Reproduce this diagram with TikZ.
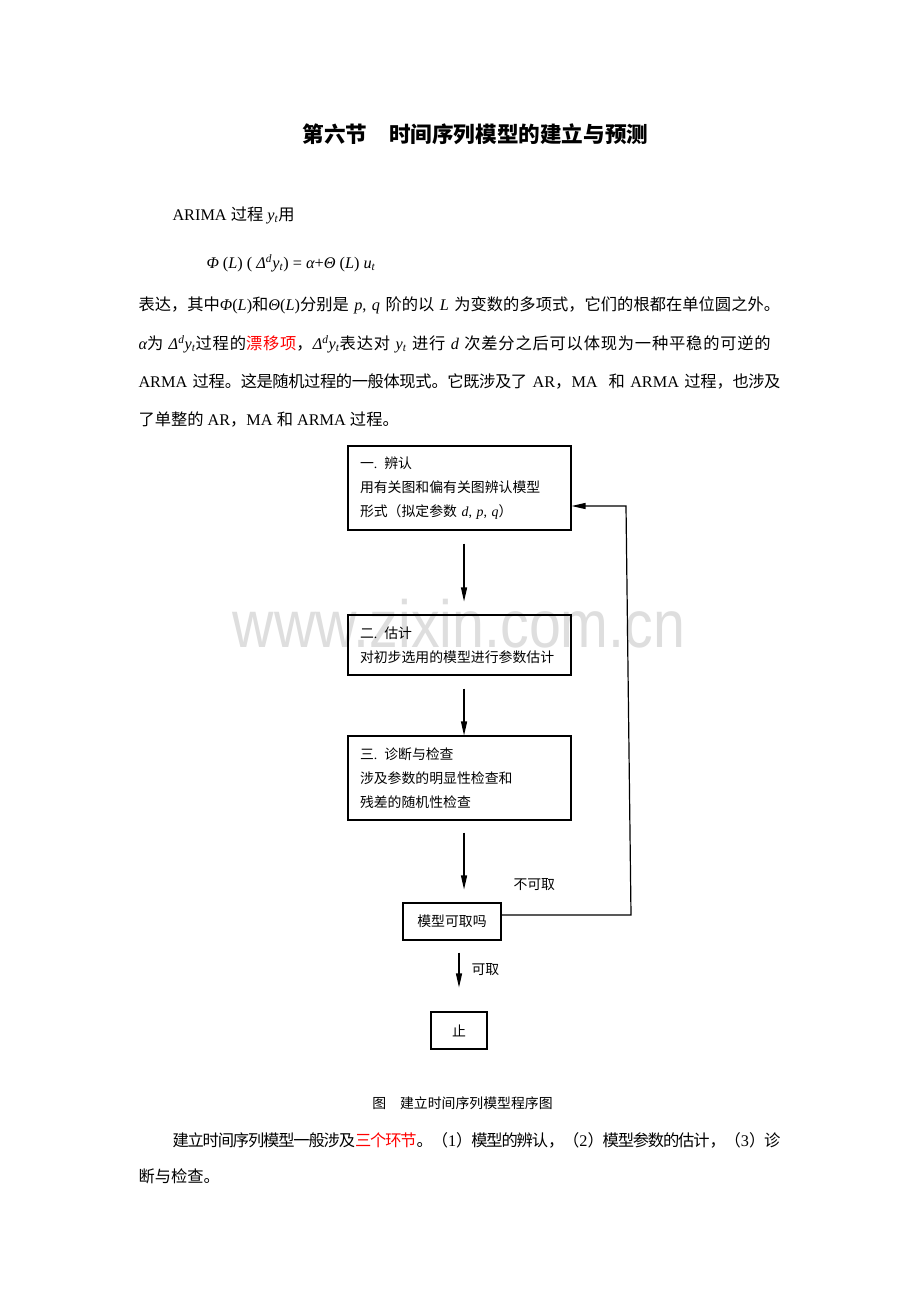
\documentclass[tikz,border=0pt]{standalone}
\usepackage{fontspec}
\setmainfont{Noto Sans CJK SC}
\newfontfamily\tms{Liberation Serif}
\newfontfamily\wmfont{Liberation Sans}
\usetikzlibrary{arrows.meta}

\definecolor{driftred}{RGB}{255,0,0}
\definecolor{markgray}{RGB}{222,222,222}

\newcommand\tm[1]{{\tms #1}}
\newcommand\mi[1]{{\tms\itshape #1}}
\newcommand\bodyfont{\fontsize{12.2}{14}\selectfont}
\newcommand\flowfont{\fontsize{10.4}{18}\selectfont}
\newcommand\titlefont{\fontsize{16.2}{20}\selectfont\bfseries}
\newcommand\jline[1]{\XeTeXlinebreaklocale "zh"\XeTeXlinebreakskip=0pt plus 2pt minus 1pt\relax\parfillskip=0pt\relax\tolerance=9999\relax #1\par}

\tikzset{every picture/.style={line width=0.75pt}}
\tikzset{
  stagebox/.style={draw, line width=0.8pt, minimum width=167.25pt, text width=149.25pt, inner xsep=9pt, inner ysep=0pt, align=left, font=\flowfont},
  smallbox/.style={draw, line width=0.8pt, inner sep=0pt, minimum height=27.75pt, font=\flowfont},
  flow/.style={line width=0.9pt, -{Triangle[length=10.5pt,width=4.5pt]}},
  textline/.style={inner sep=0pt, anchor=base west, font=\bodyfont},
  justline/.style={textline, text width=#1},
}

\begin{document}
\begin{tikzpicture}[x=0.75pt,y=0.75pt,yscale=-1,xscale=1]
\fill[white] (0,0) rectangle (920,1302);
\path[use as bounding box] (0,0) rectangle (920,1302);

% Watermark
\node[inner sep=0pt, anchor=base, text=markgray, font=\wmfont\fontsize{50}{50}\selectfont] (mark) at (459,647) {\scalebox{0.86}[1]{www.zixin.com.cn}};

% Text Node
\node[inner sep=0pt, anchor=base, font=\titlefont] (title) at (475.5,143) {第六节　时间序列模型的建立与预测};
% Text Node
\node[textline] (intro) at (172,220) {\tm{ARIMA }过程\tm{ }\mi{y\textsubscript{t}}用};
% Text Node
\node[textline] (model) at (206,268) {\mi{Φ}\tm{ (}\mi{L}\tm{) ( }\mi{Δ\textsuperscript{d}y\textsubscript{t}}\tm{) = }\mi{α}\tm{+}\mi{Θ}\tm{ (}\mi{L}\tm{) }\mi{u\textsubscript{t}}};
% Text Node
\node[justline=481.5pt] (para a) at (138,310) {\jline{表达，其中\mi{Φ}\tm{(}\mi{L}\tm{)}和\mi{Θ}\tm{(}\mi{L}\tm{)}分别是\tm{ }\mi{p}\tm{, }\mi{q}\tm{ }阶的以\tm{ }\mi{L}\tm{ }为变数的多项式，它们的根都在单位圆之外。}};
% Text Node
\node[justline=481.5pt] (para b) at (138,349) {\jline{\mi{α}为\tm{ }\mi{Δ\textsuperscript{d}y\textsubscript{t}}过程的\textcolor{driftred}{漂移项}，\mi{Δ\textsuperscript{d}y\textsubscript{t}}表达对\tm{ }\mi{y\textsubscript{t}}\tm{ }进行\tm{ }\mi{d}\tm{ }次差分之后可以体现为一种平稳的可逆的}};
% Text Node
\node[justline=481.5pt] (para c) at (138,387) {\jline{\tm{ARMA }过程。这是随机过程的一般体现式。它既涉及了\tm{ AR}，\tm{MA~ }和\tm{ ARMA }过程，也涉及}};
% Text Node
\node[textline] (para d) at (138,425) {了单整的\tm{ AR}，\tm{MA }和\tm{ ARMA }过程。};

%Shape: Rectangle
\node[stagebox, minimum height=63pt] (ident) at (459.5,488) {一\tm{. }辨认\\用有关图和偏有关图辨认模型\\形式（拟定参数\tm{ }\mi{d}\tm{, }\mi{p}\tm{, }\mi{q}）};
%Shape: Rectangle
\node[stagebox, minimum height=45pt] (estim) at (459.5,645) {二\tm{. }估计\\对初步选用的模型进行参数估计};
%Shape: Rectangle
\node[stagebox, minimum height=63pt] (diag) at (459.5,778) {三\tm{. }诊断与检查\\涉及参数的明显性检查和\\残差的随机性检查};
%Shape: Rectangle
\node[smallbox, minimum width=73.5pt] (check) at (452,921.5) {模型可取吗};
%Shape: Rectangle
\node[smallbox, minimum width=42pt] (stop) at (459,1030.5) {止};

%Straight Lines
\draw[flow, shorten <=9.75pt, shorten >=9.75pt] ([xshift=3.4pt]ident.south) -- ([xshift=3.4pt]estim.north);
\draw[flow, shorten <=9.75pt] ([xshift=3.4pt]estim.south) -- ([xshift=3.4pt]diag.north);
\draw[flow, shorten <=9pt, shorten >=9.75pt] ([xshift=3.4pt]diag.south) -- ([xshift=3.4pt]diag.south |- check.north);
\draw[flow, shorten <=9pt, shorten >=18pt] (stop.north |- check.south) -- (stop.north);

% feedback loop
\coordinate (back low) at (631,915);
\coordinate (back high) at (626,506);
\draw[flow] (check.east |- back low) -- (back low) -- (back high) -- (back high -| ident.east);

% Text Node
\node[inner sep=0pt, anchor=west, font=\flowfont] (reject) at (513,885) {不可取};
% Text Node
\node[inner sep=0pt, anchor=west, font=\flowfont] (accept) at (471,970) {可取};

% Text Node
\node[inner sep=0pt, anchor=base, font=\flowfont] (caption) at (462.5,1108) {图　建立时间序列模型程序图};
% Text Node
\node[justline=456pt] (close a) at (172,1146) {\jline{建立时间序列模型一般涉及\textcolor{driftred}{三个环节}。（\tm{1}）模型的辨认，（\tm{2}）模型参数的估计，（\tm{3}）诊}};
% Text Node
\node[textline] (close b) at (138,1182) {断与检查。};

\end{tikzpicture}
\end{document}
